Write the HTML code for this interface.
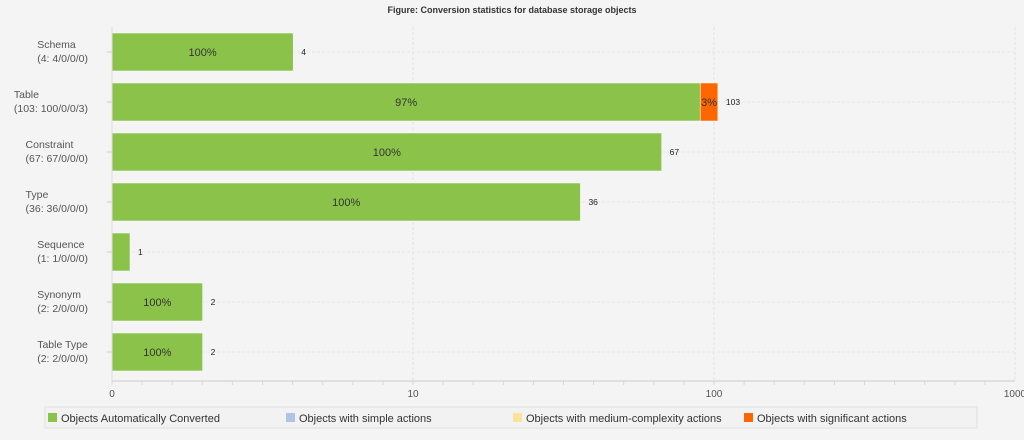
<!DOCTYPE html>
<html><head><meta charset="utf-8"><style>
body{margin:0;background:#f4f4f4;width:1024px;height:435px;overflow:hidden;font-family:"Liberation Sans",sans-serif}
svg text{font-family:"Liberation Sans",sans-serif}
</style></head><body>
<svg id="chart" width="1024" height="435" xmlns="http://www.w3.org/2000/svg">
<text x="512" y="13" text-anchor="middle" font-size="9" font-weight="bold" fill="#333">Figure: Conversion statistics for database storage objects</text>
<g id="grid"></g><g id="bars"></g><g id="axis"></g>
<g>
<rect x="45" y="407" width="932" height="21" fill="#f2f2f2" stroke="#e0e0e0"/>
<g><rect x="48" y="413" width="9" height="9" fill="#8bc34a"/><text x="61" y="422" font-size="11" fill="#333">Objects Automatically Converted</text></g>
<g><rect x="286" y="413" width="9" height="9" fill="#aec4e6"/><text x="299" y="422" font-size="11" fill="#333">Objects with simple actions</text></g>
<g><rect x="513" y="413" width="9" height="9" fill="#fbe29a"/><text x="526" y="422" font-size="11" fill="#333">Objects with medium-complexity actions</text></g>
<g><rect x="744" y="413" width="9" height="9" fill="#ff6600"/><text x="757" y="422" font-size="11" fill="#333">Objects with significant actions</text></g>
</g>
</svg>
<script>
const categories=["Schema","Table","Constraint","Type","Sequence","Synonym","Table Type"];
const autoConv=[4,100,67,36,1,2,2];
const simple=[0,0,0,0,0,0,0];
const medium=[0,0,0,0,0,0,0];
const significant=[0,3,0,0,0,0,0];
const tickLabels=["0","10","100","1000"];
const NS="http://www.w3.org/2000/svg";
const x0=112,dec=301,plotTop=27,band=50,barH=38;
function xs(v){return v<=1?x0+18:x0+Math.log10(v)*dec;}
function mk(t,a,p){const e=document.createElementNS(NS,t);for(const k in a)e.setAttribute(k,a[k]);p.appendChild(e);return e;}
const grid=document.getElementById('grid'),bars=document.getElementById('bars'),axis=document.getElementById('axis');
for(let d=0;d<=3;d++){const x=x0+d*dec;
 const g=mk('line',{x1:x,x2:x,y1:plotTop,y2:381,stroke:'#e2e2e2','stroke-dasharray':'3,2'},grid);
 
 
 const t=mk('text',{x:x,y:397,'text-anchor':'middle','font-size':'10',fill:'#555'},axis);t.textContent=tickLabels[d];
 
 
 if(d<3)for(let i=0;i<10;i++){const tx=x+i*dec/10;mk('line',{x1:tx,x2:tx,y1:381,y2:385,stroke:'#d8d8d8'},axis);}
}
mk('line',{x1:x0,x2:1015,y1:381,y2:381,stroke:'#ccc'},axis);
mk('line',{x1:x0,x2:x0,y1:plotTop,y2:381,stroke:'#ddd'},axis);
categories.forEach((c,i)=>{
 const cy=plotTop+band*i+band/2;
 mk('line',{x1:x0,x2:1015,y1:cy,y2:cy,stroke:'#e6e6e6','stroke-dasharray':'3,2'},grid);
 mk('line',{x1:x0-5,x2:x0,y1:cy,y2:cy,stroke:'#ccc'},axis);
 const total=autoConv[i]+simple[i]+medium[i]+significant[i];
 const w=xs(total)-x0;
 let x=x0;const segs=[[autoConv[i],'#8bc34a','auto'],[simple[i],'#aec4e6','simple'],[medium[i],'#fbe29a','medium'],[significant[i],'#ff6600','significant']];
 segs.forEach(s=>{if(!s[0])return;const sw=w*s[0]/total;
  const r=mk('rect',{x:x,y:cy-barH/2,width:sw,height:barH,fill:s[1],stroke:'#fff','stroke-width':0.5},bars);
  
  
  if(total>1){const t=mk('text',{x:x+sw/2,y:cy+4,'text-anchor':'middle','font-size':'11',fill:'#333'},bars);t.textContent=Math.round(100*s[0]/total)+'%';
   
   }
  x+=sw;});
 const vl=mk('text',{x:x0+w+8,y:cy+3,'font-size':'8.5',fill:'#222'},bars);vl.textContent=total;
 
 
 const l1=mk('text',{x:x0-28,y:cy-4,'font-size':'10.5',fill:'#555'},axis);
 const l2=mk('text',{x:x0-28,y:cy+10,'font-size':'10.5',fill:'#555'},axis);
 l1.textContent=c;l2.textContent='('+total+': '+autoConv[i]+'/'+simple[i]+'/'+medium[i]+'/'+significant[i]+')';
 let wmax=70;
 try{wmax=Math.max(l1.getComputedTextLength(),l2.getComputedTextLength());}catch(e){}
 l1.setAttribute('x',x0-24-wmax);l2.setAttribute('x',x0-24-wmax);
 
 
 
 
});
</script>
</body></html>
